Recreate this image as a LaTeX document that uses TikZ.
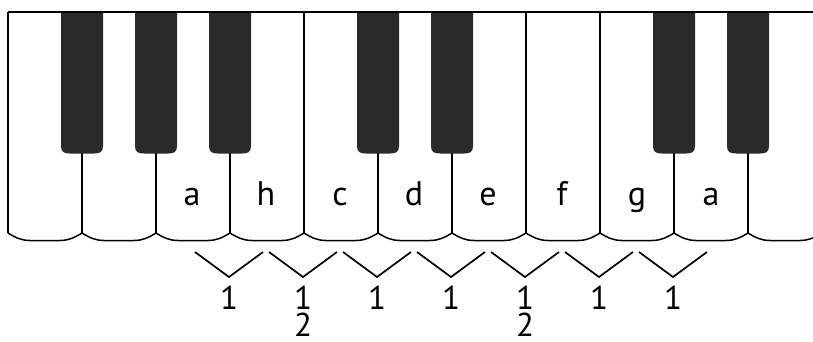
\documentclass[tikz,border=0pt]{standalone}
\usepackage{fontspec}
\setmainfont{PT Sans}
\definecolor{keyblack}{HTML}{2A2A2A}
\begin{document}
\begin{tikzpicture}[x=1pt,y=-1pt,
  keyline/.style={draw=black,line width=1.5pt},
  blackkey/.style={fill=keyblack},
  vmark/.style={draw=black,line width=1.7pt},
  lbl/.style={font=\fontsize{34}{36}\selectfont,inner sep=0pt,anchor=base},
  num/.style={font=\fontsize{33}{27}\selectfont,inner sep=0pt,anchor=base,align=center}]
\useasboundingbox (0,0) rectangle (813,342);
\fill[white] (0,0) rectangle (813,342);
% white key bottoms
\foreach \a/\b in {8/82,82/156,156/230,230/304,304/378,378/452,452/526,526/600,600/674,674/748,748/822}{
  \draw[keyline] (\a,233) .. controls (\a+8,238) and (\a+14,240.5) .. (\a+22,240.5)
    -- (\b-22,240.5) .. controls (\b-14,240.5) and (\b-8,238) .. (\b,233);
}
% left edge
\draw[keyline] (8,12) -- (8,233);
% boundaries without black keys
\foreach \x in {304,526,600}{
  \draw[keyline] (\x,12) -- (\x,233);
}
% boundaries below black keys
\foreach \x in {82,156,230,378,452,674,748}{
  \draw[keyline] (\x,150) -- (\x,233);
  \fill[blackkey] (\x-21,12) -- (\x-21,146) .. controls (\x-21,152) and (\x-18,153.5) .. (\x-12,153.5)
    -- (\x+12,153.5) .. controls (\x+18,153.5) and (\x+21,152) .. (\x+21,146) -- (\x+21,12) -- cycle;
}
% top line
\draw[line width=1.8pt] (8,12) -- (813,12);
% key names
\node[lbl] (k1) at (192,205) {a};
\node[lbl] (k2) at (266,205) {h};
\node[lbl] (k3) at (340,205) {c};
\node[lbl] (k4) at (414,205) {d};
\node[lbl] (k5) at (488,205) {e};
\node[lbl] (k6) at (562,205) {f};
\node[lbl] (k7) at (637,205) {g};
\node[lbl] (k8) at (711,205) {a};
% V marks
\foreach \c in {229,303,377,451,525,599,673}{
  \draw[vmark] (\c-34,252) -- (\c,277) -- (\c+34,252);
}
% numbers
\node[num] (n1) at (229,309) {1};
\node[num] (n2) at (303,336) {1\\2};
\node[num] (n3) at (377,309) {1};
\node[num] (n4) at (451,309) {1};
\node[num] (n5) at (525,336) {1\\2};
\node[num] (n6) at (599,309) {1};
\node[num] (n7) at (673,309) {1};
\end{tikzpicture}
\end{document}
